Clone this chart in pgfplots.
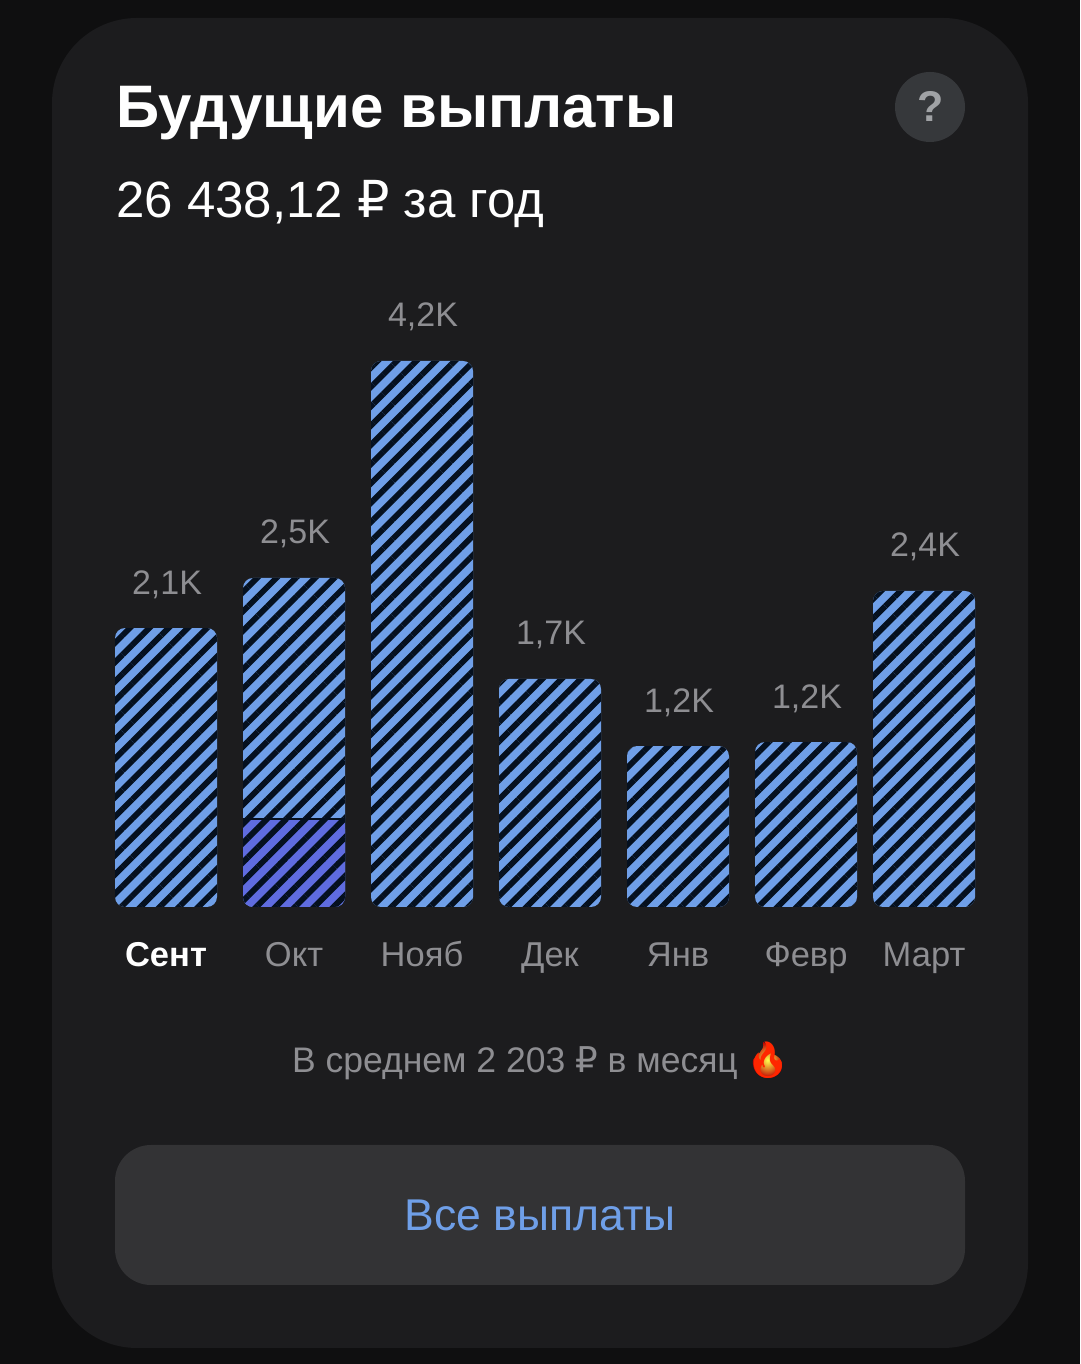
\documentclass[border=0pt]{standalone}
\usepackage{fontspec}
\setmainfont{Liberation Sans}
\newfontfamily\emojifont{Noto Emoji}
\newfontfamily\rub{DejaVu Sans}
\usepackage{pgfplots}
\usepackage{pgfplotstable}
\pgfplotsset{compat=1.18}
\usetikzlibrary{patterns.meta}
\definecolor{pagebg}{HTML}{0F0F10}
\definecolor{cardbg}{HTML}{1C1C1E}
\definecolor{btnbg}{HTML}{333335}
\definecolor{helpbg}{HTML}{36383B}
\definecolor{helpfg}{HTML}{A0A2A5}
\definecolor{barblue}{HTML}{6F9FE8}
\definecolor{barviolet}{HTML}{5F6CE0}
\definecolor{stripe}{HTML}{05101F}
\definecolor{labelgray}{HTML}{8E8E92}
\pgfplotstableread{
x y lab
166 2.146 2,1K
294 2.531 2,5K
422 4.200 4,2K
550 1.754 1,7K
678 1.238 1,2K
806 1.269 1,2K
924 2.431 2,4K
}\bars
\pgfplotstableread{
x y
294 0.677
}\paid
\pgfplotstableread{
x y
243 0.35
345 0.35
345 0.677
243 0.677
}\paidtop
\tikzset{hatch/.style={postaction={pattern={Lines[angle=45,distance=13.65pt,line width=5.8pt,xshift=11.6pt]},pattern color=stripe}}}
\begin{document}
\begin{tikzpicture}[x=1pt,y=1pt]
\fill[pagebg] (0,0) rectangle (1080,1364);
\fill[cardbg,rounded corners=85pt] (52,16) rectangle (1028,1346);
\fill[btnbg,rounded corners=36pt] (115,79) rectangle (965,219);
\fill[helpbg] (930,1257) circle (35);
\node[anchor=center,text=helpfg,font=\fontsize{43}{48}\selectfont\bfseries] at (930.5,1257) {?};
\node[anchor=base west,inner sep=0,text=white,font=\fontsize{60}{70}\selectfont\bfseries] at (116,1236) {Будущие выплаты};
\node[anchor=base west,inner sep=0,text=white,font=\fontsize{51}{60}\selectfont] at (116,1146) {26 438,12 {\rub ₽} за год};
\node[anchor=base,inner sep=0,text=labelgray,font=\fontsize{35.5}{40}\selectfont] at (515,291) {В среднем 2 203 {\rub ₽} в месяц};
\shade[inner color=yellow!70!white,middle color=orange,outer color=red!75!black,shading=radial]
  (768,286) .. controls (758,286) and (752,294) .. (753,304)
  .. controls (756,310) and (765,312) .. (763,322)
  .. controls (770,318) and (773,314) .. (773,310)
  .. controls (778,308) and (783,304) .. (782,298)
  .. controls (782,291) and (776,286) .. (768,286) -- cycle;
\node[anchor=base,inner sep=0,text=red!70!orange,font=\fontsize{36}{40}\selectfont\emojifont] at (768,291) {🔥};
\node[anchor=base,inner sep=0,text=barblue,font=\fontsize{44.5}{52}\selectfont] at (540,133) {Все выплаты};
\begin{axis}[
  at={(0pt,457pt)},anchor=south west,scale only axis,width=1080pt,height=907pt,
  xmin=0,xmax=1080,ymin=0,ymax=6.9769,
  clip=false,
  axis line style={draw=none},tick style={draw=none},
  ytick=\empty,
  xtick={166,294,422,550,678,806,924},
  xticklabels={\textcolor{white}{\bfseries Сент},Окт,Нояб,Дек,Янв,Февр,Март},
  xticklabel style={text=labelgray,font=\fontsize{34.5}{40}\selectfont,anchor=base,yshift=-60pt},
  tick label style={inner sep=0pt},
]
\addplot[ybar,bar width=102pt,draw=none,fill=barblue,rounded corners=10pt,hatch,
  point meta=explicit symbolic,
  nodes near coords,
  every node near coord/.style={anchor=base,text=labelgray,font=\fontsize{34}{40}\selectfont,inner sep=0pt,yshift=34pt,xshift=1pt,rounded corners=0pt}]
  table[x=x,y=y,meta=lab]{\bars};
\addplot[ybar,bar width=102pt,draw=none,fill=barviolet,rounded corners=10pt,hatch] table[x=x,y=y]{\paid};
\addplot[draw=none,fill=barviolet,hatch] table[x=x,y=y]{\paidtop} -- cycle;
\addplot[stripe,line width=2pt] coordinates {(243,0.677)(345,0.677)};
\end{axis}
\end{tikzpicture}
\end{document}
